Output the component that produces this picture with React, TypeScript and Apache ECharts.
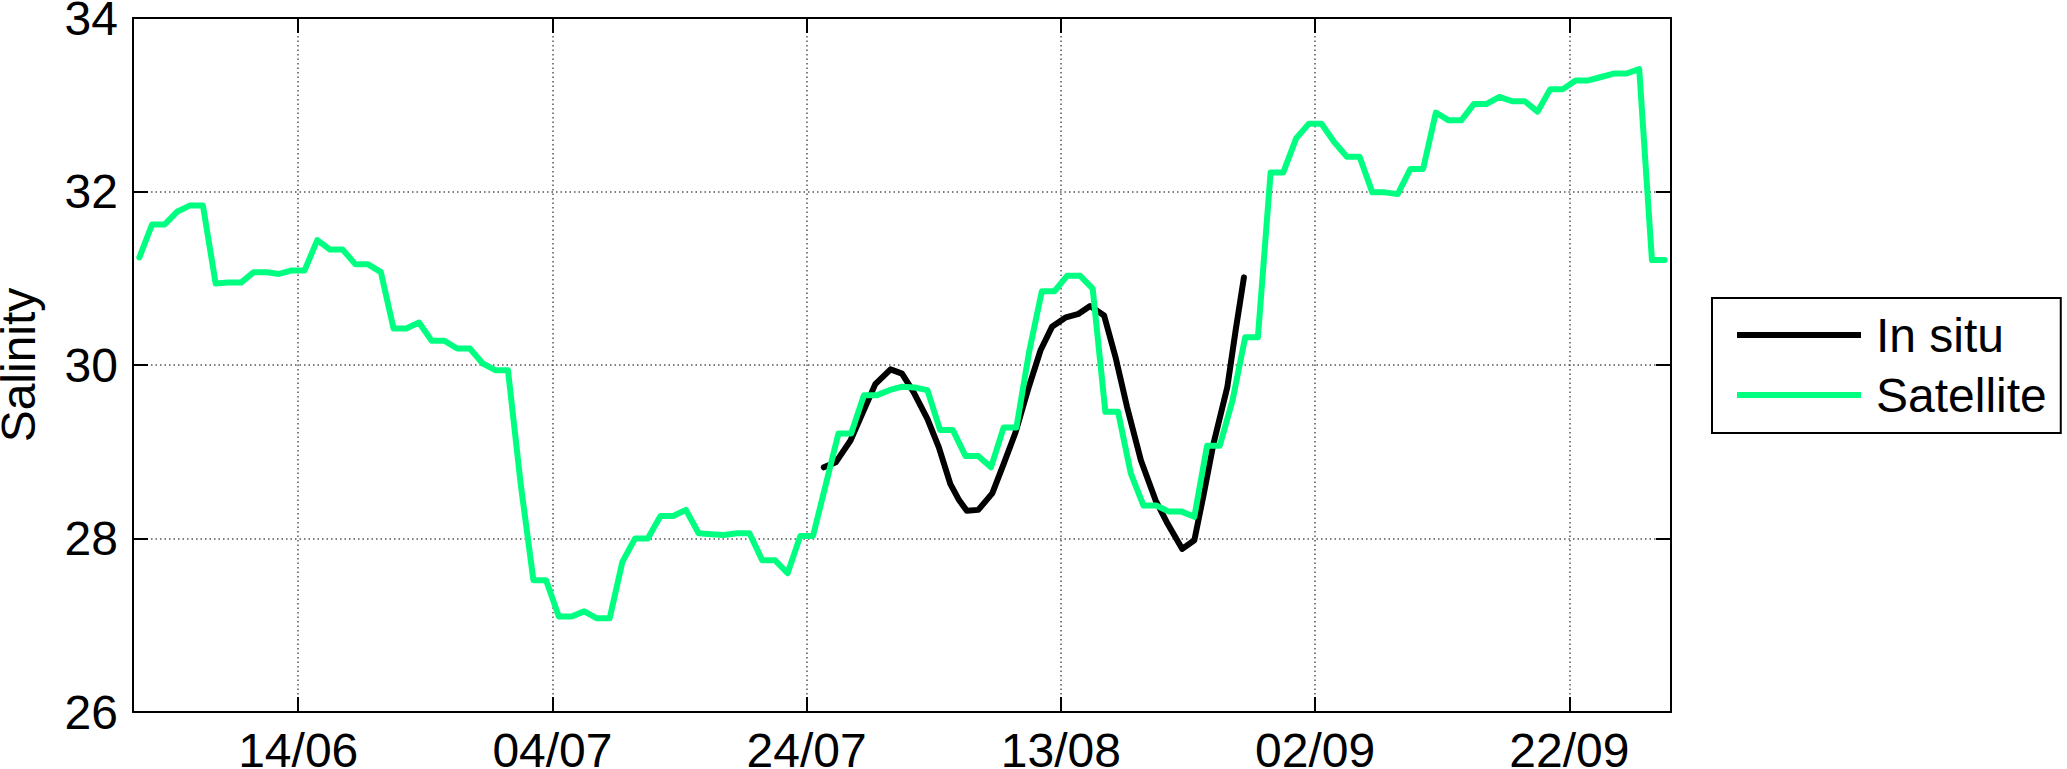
import React, { useEffect, useRef } from "react";
import * as echarts from "echarts";

// x values are days counted from 14/06 (14/06 = 0)
const xMinDay = -13; // 01/06
const xMaxDay = 108; // 30/09
const xTickDays = [0, 20, 40, 60, 80, 100];
const xTickLabels = ["14/06", "04/07", "24/07", "13/08", "02/09", "22/09"];

const yTicks = [26, 28, 30, 32, 34];

// Satellite: daily values, first one at 01/06 (midday)
const satelliteFirstDay = -12.5;
const satelliteValues = [
  31.24, 31.62, 31.62, 31.77, 31.84, 31.84, 30.94, 30.95, 30.95, 31.07,
  31.07, 31.05, 31.09, 31.09, 31.44, 31.33, 31.33, 31.16, 31.16, 31.07,
  30.42, 30.42, 30.49, 30.28, 30.28, 30.19, 30.19, 30.02, 29.94, 29.94,
  28.63, 27.52, 27.52, 27.1, 27.1, 27.16, 27.08, 27.08, 27.73, 28.0,
  28.0, 28.26, 28.26, 28.33, 28.06, 28.05, 28.04, 28.06, 28.06, 27.75,
  27.75, 27.6, 28.03, 28.03, 28.62, 29.21, 29.21, 29.65, 29.65, 29.71,
  29.75, 29.74, 29.71, 29.25, 29.25, 28.95, 28.95, 28.82, 29.28, 29.28,
  30.15, 30.85, 30.85, 31.03, 31.03, 30.88, 29.46, 29.46, 28.75, 28.38,
  28.38, 28.31, 28.31, 28.25, 29.07, 29.07, 29.59, 30.32, 30.32, 32.22,
  32.22, 32.61, 32.78, 32.78, 32.57, 32.4, 32.4, 31.99, 31.99, 31.97,
  32.26, 32.26, 32.91, 32.82, 32.82, 33.01, 33.01, 33.09, 33.04, 33.04,
  32.92, 33.18, 33.18, 33.28, 33.28, 33.32, 33.36, 33.36, 33.41, 31.21,
  31.21,
];

// In situ
const inSituDays = [
  41.35, 42.3, 43.45, 44.5, 45.4, 46.6, 47.5, 48.4, 49.5, 50.4, 51.3, 52.0,
  52.6, 53.5, 54.6, 55.5, 56.4, 57.4, 58.4, 59.3, 60.4, 61.4, 62.3, 63.4,
  64.3, 65.2, 66.3, 67.45, 68.4, 69.55, 70.5, 71.25, 72.0, 73.1, 73.75, 74.4,
];
const inSituValues = [
  28.82, 28.88, 29.13, 29.48, 29.78, 29.95, 29.9, 29.69, 29.38, 29.05, 28.63,
  28.44, 28.32, 28.33, 28.52, 28.86, 29.21, 29.71, 30.17, 30.44, 30.55, 30.59,
  30.68, 30.57, 30.09, 29.52, 28.9, 28.44, 28.17, 27.88, 27.98, 28.52, 29.09,
  29.75, 30.4, 31.01,
];

const GREEN = "#00ff80";
const FONT = "'Liberation Sans', Arial, Helvetica, sans-serif";

export default function App() {
  const ref = useRef<HTMLDivElement>(null);

  useEffect(() => {
    document.body.style.margin = "0";
    if (!ref.current) return;
    const chart = echarts.init(ref.current, undefined, { renderer: "svg" });

    const satData = satelliteValues.map((v, i) => [satelliteFirstDay + i, v]);
    const inSituData = inSituValues.map((v, i) => [inSituDays[i], v]);

    const xLabel = (v: number) => {
      const idx = xTickDays.findIndex((d) => Math.abs(d - v) < 1e-6);
      return idx >= 0 ? xTickLabels[idx] : "";
    };

    const axisLine = { show: true, onZero: false, lineStyle: { color: "#000", width: 2 } };
    const tick = { show: true, inside: true, length: 15, lineStyle: { color: "#000", width: 2 } };
    const xTick = { ...tick, customValues: xTickDays };
    const gridStyle = { color: "#555", width: 1.5, type: [1.5, 3] as any };

    chart.setOption({
      animation: false,
      backgroundColor: "#fff",
      textStyle: { fontFamily: FONT },
      grid: {
        left: 133,
        right: 396,
        top: 18,
        bottom: 57,
        containLabel: false,
        outerBoundsMode: "none",
      },
      legend: {
        orient: "vertical",
        left: 1712,
        top: 298,
        data: ["In situ", "Satellite"],
        icon: "rect",
        itemWidth: 124,
        itemHeight: 6,
        itemGap: 12,
        padding: [13, 14, 14, 25],
        borderColor: "#000",
        borderWidth: 2,
        backgroundColor: "#fff",
        textStyle: { fontSize: 48, color: "#000", fontFamily: FONT, padding: [0, 0, 0, 10] },
      },
      xAxis: [
        {
          type: "value",
          min: xMinDay,
          max: xMaxDay,
          position: "bottom",
          axisLine,
          axisTick: xTick,
          splitLine: { show: true, lineStyle: gridStyle },
          axisLabel: {
            customValues: xTickDays,
            formatter: xLabel,
            fontSize: 48,
            color: "#000",
            fontFamily: FONT,
            margin: 14,
          },
        },
        {
          type: "value",
          min: xMinDay,
          max: xMaxDay,
          position: "top",
          axisLine,
          axisTick: xTick,
          splitLine: { show: false },
          axisLabel: { show: false },
        },
      ],
      yAxis: [
        {
          type: "value",
          min: yTicks[0],
          max: yTicks[yTicks.length - 1],
          interval: 2,
          position: "left",
          name: "Salinity",
          nameLocation: "middle",
          nameGap: 91,
          nameTextStyle: { fontSize: 48, color: "#000", fontFamily: FONT },
          axisLine,
          axisTick: tick,
          splitLine: { show: true, lineStyle: gridStyle },
          axisLabel: { fontSize: 48, color: "#000", fontFamily: FONT, margin: 15 },
        },
        {
          type: "value",
          min: yTicks[0],
          max: yTicks[yTicks.length - 1],
          interval: 2,
          position: "right",
          axisLine,
          axisTick: tick,
          splitLine: { show: false },
          axisLabel: { show: false },
        },
      ],
      series: [
        {
          name: "In situ",
          type: "line",
          data: inSituData,
          showSymbol: false,
          symbol: "none",
          color: "#000",
          lineStyle: { color: "#000", width: 6, cap: "round", join: "round" },
          z: 3,
        },
        {
          name: "Satellite",
          type: "line",
          data: satData,
          showSymbol: false,
          symbol: "none",
          color: GREEN,
          lineStyle: { color: GREEN, width: 6, cap: "round", join: "round" },
          z: 4,
        },
      ],
    });

    return () => chart.dispose();
  }, []);

  return (
    <div
      ref={ref}
      style={{ position: "fixed", left: 0, top: 0, width: 2067, height: 769, background: "#fff" }}
    />
  );
}
